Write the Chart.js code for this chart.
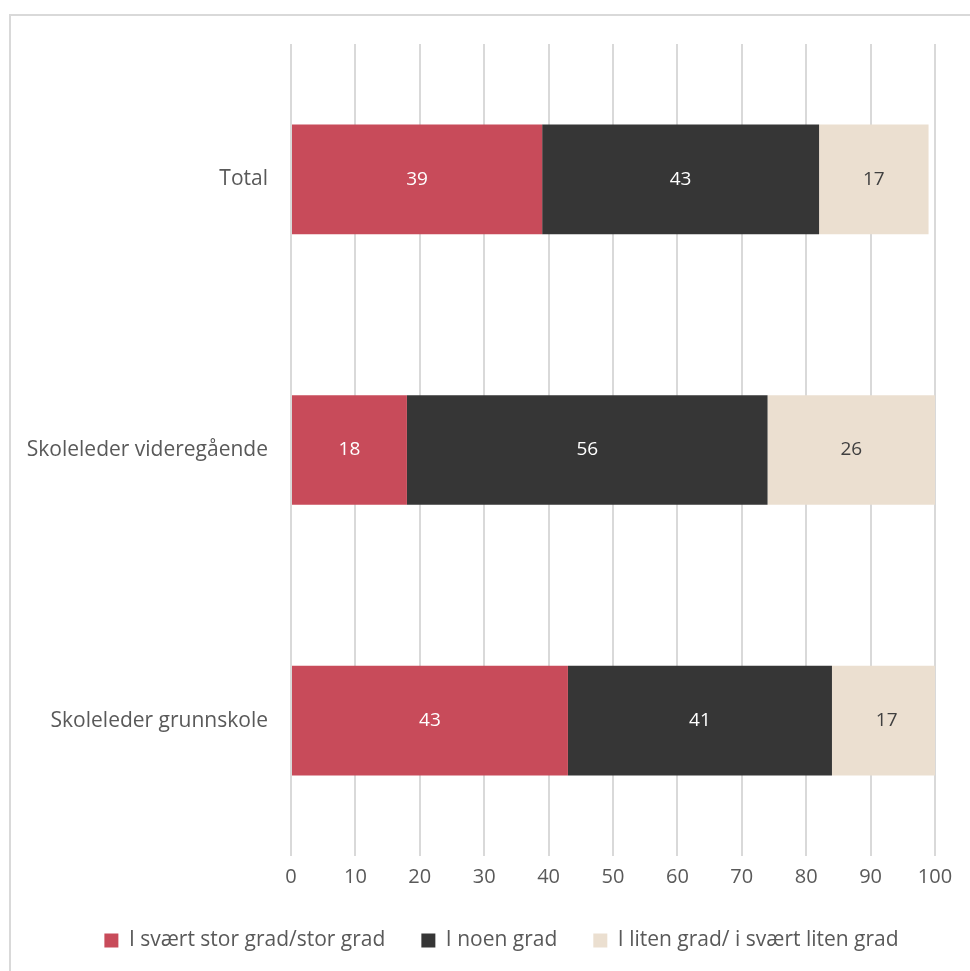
<!DOCTYPE html>
<html lang="no">
<head>
    <meta charset="UTF-8">
    <title>Skoleledere - grad</title>
    <script src="https://cdn.jsdelivr.net/npm/chart.js"></script>
</head>
<style>
    html, body { margin: 0; padding: 0; background: #fff; overflow: hidden; }
    #frame {
        position: absolute;
        left: 9px;
        top: 14px;
        width: 990px;
        height: 990px;
        border: 2px solid #D9D9D9;
    }
    #wrap { position: absolute; left: 0; top: 0; width: 970px; height: 971px; }
</style>
<body>
<div id="frame"></div>
<div id="wrap">
    <canvas id="chart" width="970" height="971"></canvas>
</div>
<script>
    // kategorier og verdier (prosent)
    var categories = ['Total', 'Skoleleder videregående', 'Skoleleder grunnskole'];
    var seriesNames = ['I svært stor grad/stor grad', 'I noen grad', 'I liten grad/ i svært liten grad'];
    var storGrad = [39, 18, 43];
    var noenGrad = [43, 56, 41];
    var litenGrad = [17, 26, 17];
    var xTicks = [0, 10, 20, 30, 40, 50, 60, 70, 80, 90, 100];

    var colors = ['#C84B5A', '#363636', '#EBDFD0'];
    var labelColors = ['#FFFFFF', '#FFFFFF', '#404040'];
    var fontFam = "'Open Sans', 'Noto Sans', sans-serif";

    // tegner tallene midt i hver bit av stolpen
    var barLabels = {
        id: 'barLabels',
        afterLayout: function (chart) {
            // flytt legenden litt mot høyre, som i originalen
            chart.legend.left += 34;
            chart.legend.right += 34;
        },
        afterDatasetsDraw: function (chart) {
            var ctx = chart.ctx;
            ctx.save();
            ctx.font = '19px ' + fontFam;
            ctx.textAlign = 'center';
            ctx.textBaseline = 'middle';
            chart.data.datasets.forEach(function (ds, i) {
                var meta = chart.getDatasetMeta(i);
                meta.data.forEach(function (bar, j) {
                    var cx = (bar.x + bar.base) / 2;
                    ctx.fillStyle = labelColors[i];
                    ctx.fillText(String(ds.data[j]), cx, bar.y);
                });
            });
            ctx.restore();
        }
    };

    new Chart(document.getElementById('chart').getContext('2d'), {
        type: 'bar',
        data: {
            labels: categories,
            datasets: [
                { label: seriesNames[0], data: storGrad, backgroundColor: colors[0] },
                { label: seriesNames[1], data: noenGrad, backgroundColor: colors[1] },
                { label: seriesNames[2], data: litenGrad, backgroundColor: colors[2] }
            ]
        },
        options: {
            indexAxis: 'y',
            responsive: false,
            animation: false,
            categoryPercentage: 0.81,
            barPercentage: 0.5,
            layout: { padding: { top: 44, right: 35, left: 0, bottom: 10 } },
            scales: {
                x: {
                    stacked: true,
                    min: 0,
                    max: 100,
                    afterBuildTicks: function (scale) {
                        scale.ticks = xTicks.map(function (v) { return { value: v }; });
                    },
                    afterFit: function (scale) { scale.height = 38; },
                    grid: { color: '#D9D9D9', lineWidth: 2, drawTicks: false },
                    border: { display: false },
                    ticks: { color: '#595959', padding: 9, font: { family: fontFam, size: 20 } }
                },
                y: {
                    stacked: true,
                    afterFit: function (scale) { scale.width = 291; },
                    grid: { display: false },
                    border: { display: false },
                    ticks: { color: '#595959', padding: 15, font: { family: fontFam, size: 21 } }
                }
            },
            plugins: {
                legend: {
                    position: 'bottom',
                    labels: {
                        boxWidth: 14,
                        boxHeight: 14,
                        padding: 36,
                        color: '#595959',
                        font: { family: fontFam, size: 21 }
                    }
                },
                tooltip: { enabled: false }
            }
        },
        plugins: [barLabels]
    });
</script>
</body>
</html>
